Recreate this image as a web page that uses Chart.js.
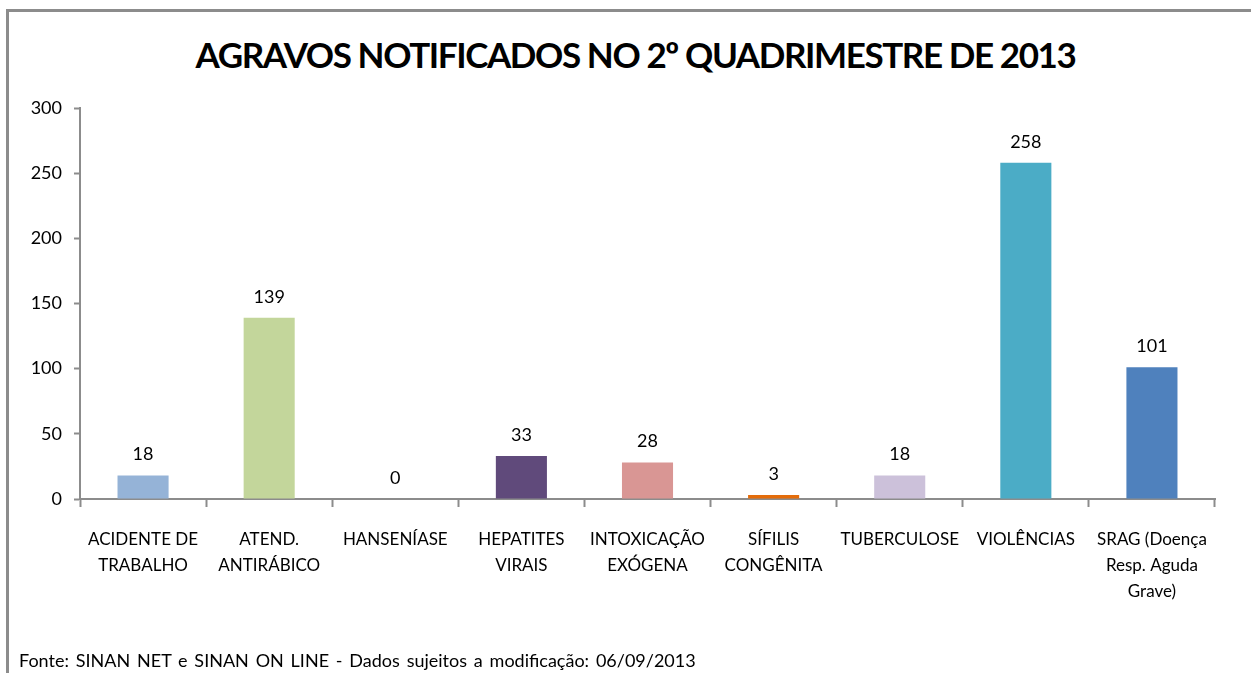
<!DOCTYPE html>
<html>
<head>
<meta charset="utf-8">
<script src="https://cdn.jsdelivr.net/npm/chart.js@4"></script>
<style>
    html, body { margin: 0; padding: 0; background: #fff; }
    #wrap { position: relative; width: 1251px; height: 673px; overflow: hidden; }
    #frame { position: absolute; left: 6px; top: 9px; width: 1400px; height: 800px; border-top: 3px solid #8c8c8c; border-left: 3px solid #8c8c8c; }
    #title { position: absolute; left: 10px; top: 33px; width: 1251px; text-align: center; font: bold 35px Lato, sans-serif; letter-spacing: -1.4px; color: #000; }
    #fonte { position: absolute; left: 19px; top: 649px; font: 18px Lato, sans-serif; word-spacing: 2.2px; color: #000; white-space: nowrap; }
    canvas { position: absolute; left: 0; top: 0; }
</style>
</head>
<body>
<div id="wrap">
    <div id="frame"></div>
    <div id="title">AGRAVOS NOTIFICADOS NO 2º QUADRIMESTRE DE 2013</div>
    <canvas id="chartCanvas" width="1251" height="673"></canvas>
    <div id="fonte">Fonte: SINAN NET e SINAN ON LINE - Dados sujeitos a modificação: 06/09/2013</div>
</div>
<script>
const categorias = [
    ['ACIDENTE DE', 'TRABALHO'],
    ['ATEND.', 'ANTIRÁBICO'],
    'HANSENÍASE',
    ['HEPATITES', 'VIRAIS'],
    ['INTOXICAÇÃO', 'EXÓGENA'],
    ['SÍFILIS', 'CONGÊNITA'],
    'TUBERCULOSE',
    'VIOLÊNCIAS',
    ['SRAG (Doença', 'Resp. Aguda', 'Grave)'],
];
const notificados = [18, 139, 0, 33, 28, 3, 18, 258, 101];
const cores = ['#95b3d7', '#c3d69b', '#b7b7b7', '#604a7b', '#d99694', '#e46c0a', '#ccc1da', '#4bacc6', '#4f81bd'];
const yTicks = [0, 50, 100, 150, 200, 250, 300];

// rotulos de valor acima das barras
const valorPlugin = {
    id: 'valorPlugin',
    afterDatasetsDraw(chart) {
        const ctx = chart.ctx;
        const meta = chart.getDatasetMeta(0);
        ctx.save();
        ctx.font = '18px Lato, sans-serif';
        ctx.fillStyle = '#000';
        ctx.textAlign = 'center';
        ctx.textBaseline = 'middle';
        meta.data.forEach((bar, i) => {
            ctx.fillText(String(notificados[i]), bar.x, bar.y - 21);
        });
        ctx.restore();
    },
};

const cha = document.getElementById('chartCanvas').getContext('2d');
new Chart(cha, {
    type: 'bar',
    data: {
        labels: categorias,
        datasets: [
            {
                data: notificados,
                backgroundColor: cores,
                categoryPercentage: 1,
                barPercentage: 0.405,
            },
        ],
    },
    options: {
        responsive: false,
        animation: false,
        layout: {
            padding: { left: 0, right: 36, top: 108, bottom: 54 },
        },
        plugins: {
            legend: { display: false },
            title: { display: false },
            tooltip: { enabled: false },
        },
        scales: {
            x: {
                afterFit(scale) { scale.height = 120; },
                border: { color: '#8c8c8c', width: 2 },
                grid: {
                    offset: true,
                    drawOnChartArea: false,
                    drawTicks: true,
                    tickLength: 8,
                    tickWidth: 2,
                    color: '#8c8c8c',
                },
                ticks: {
                    color: '#000',
                    padding: 19,
                    maxRotation: 0,
                    autoSkip: false,
                    font: { family: 'Lato, sans-serif', size: 17, lineHeight: 1.55 },
                },
            },
            y: {
                min: 0,
                max: 300,
                afterFit(scale) { scale.width = 80; },
                afterBuildTicks(scale) { scale.ticks = yTicks.map(v => ({ value: v })); },
                border: { color: '#8c8c8c', width: 2 },
                grid: {
                    drawOnChartArea: false,
                    drawTicks: true,
                    tickLength: 6,
                    tickWidth: 2,
                    color: '#8c8c8c',
                },
                ticks: {
                    color: '#000',
                    padding: 12,
                    font: { family: 'Lato, sans-serif', size: 18 },
                },
            },
        },
    },
    plugins: [valorPlugin],
});
</script>
</body>
</html>
